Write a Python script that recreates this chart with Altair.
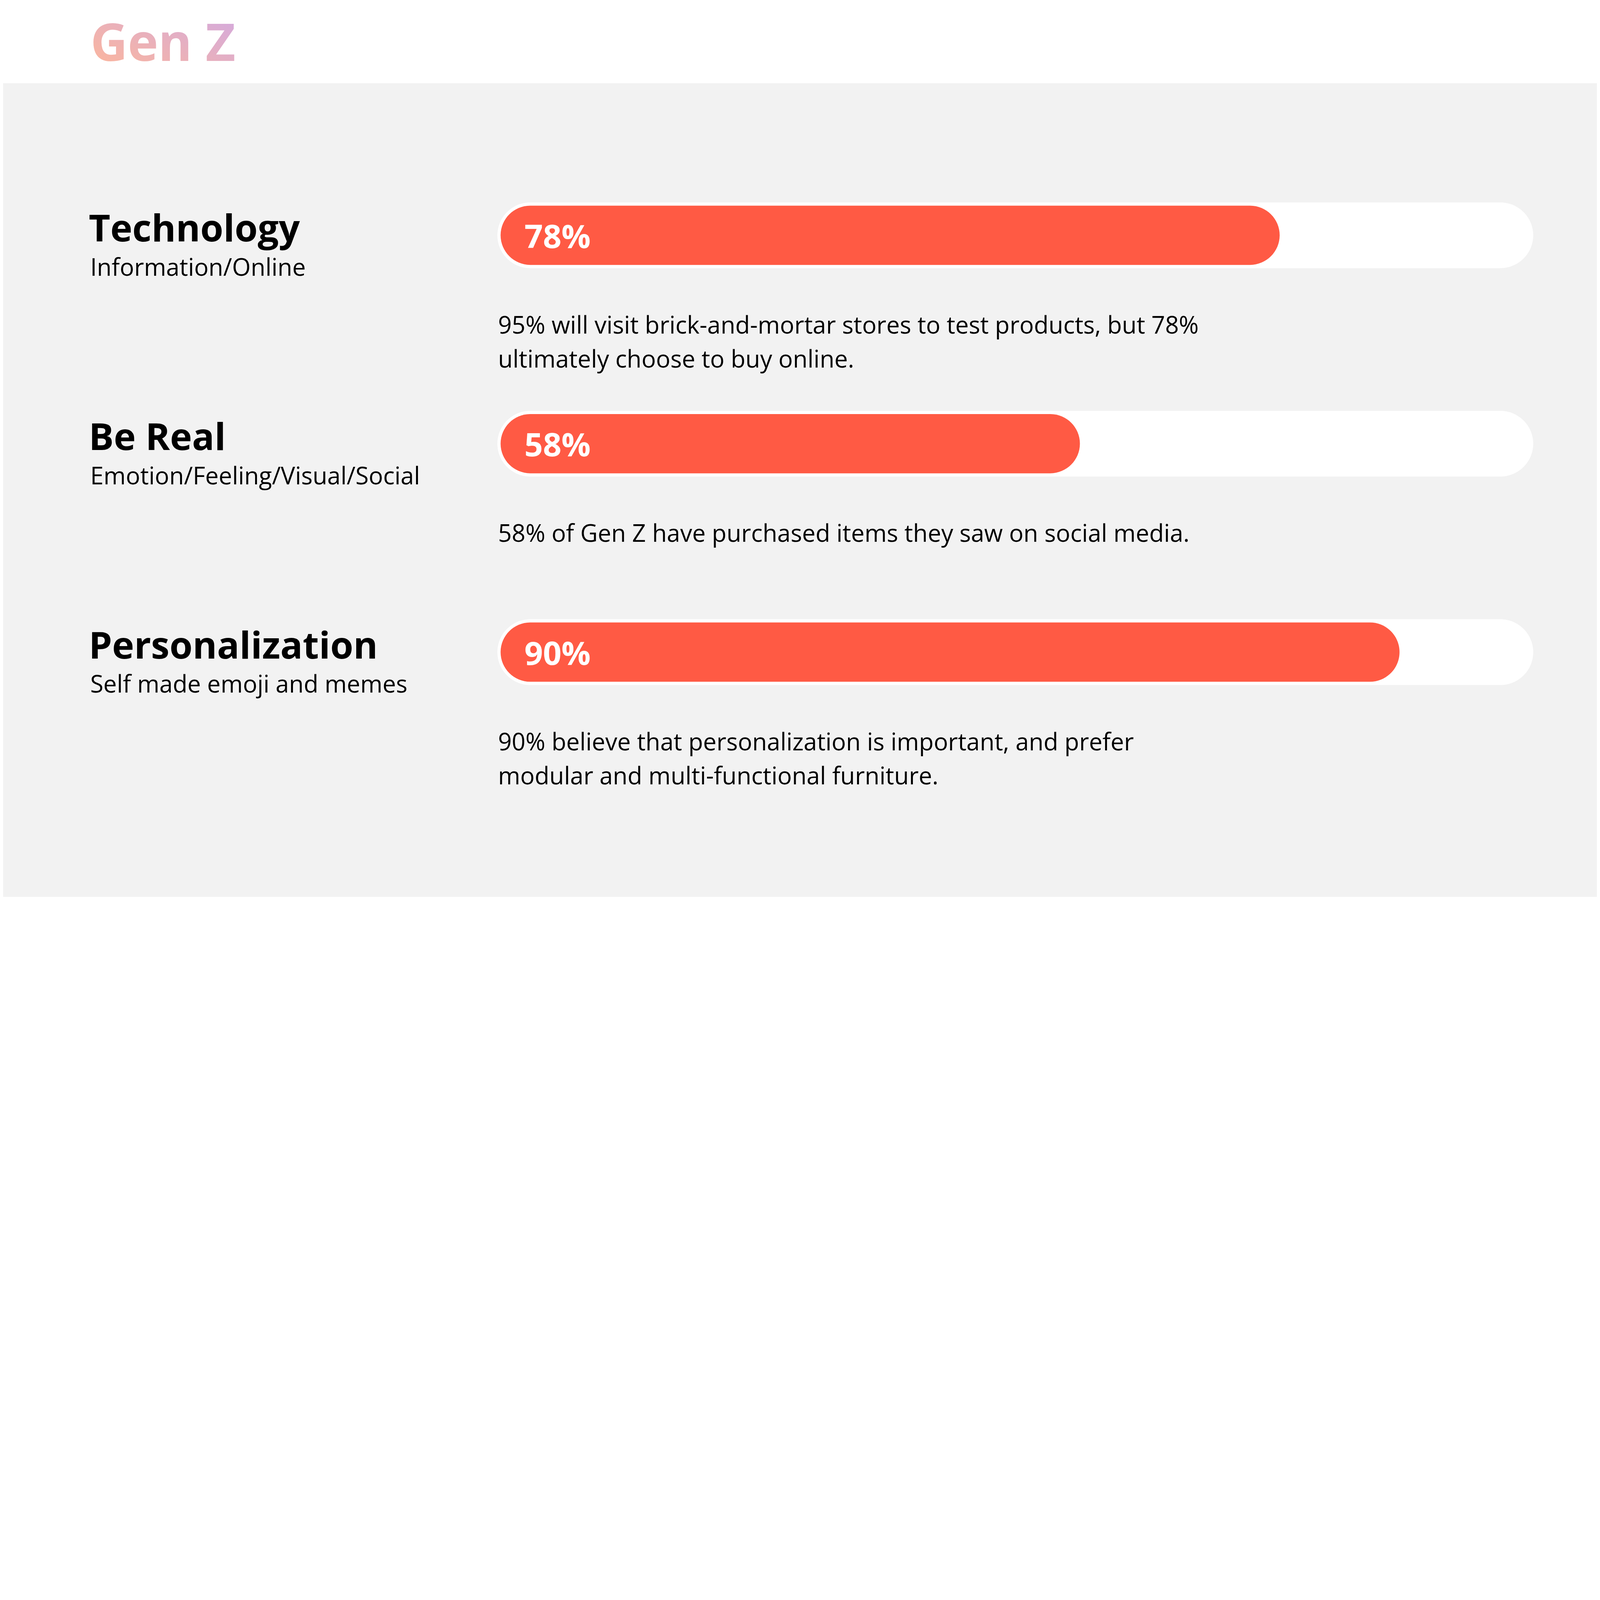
import altair as alt
import pandas as pd

# ---- data ----
categories = ["Technology", "Be Real", "Personalization"]
subtitles = ["Information/Online", "Emotion/Feeling/Visual/Social", "Self made emoji and memes"]
values = [78, 58, 90]
desc_line1 = [
    "95% will visit brick-and-mortar stores to test products, but 78%",
    "58% of Gen Z have purchased items they saw on social media.",
    "90% believe that personalization is important, and prefer",
]
desc_line2 = [
    "ultimately choose to buy online.",
    "",
    "modular and multi-functional furniture.",
]
title_text = ["Gen Z"]

# ---- layout (the browser window here is 4096 px wide) ----
F = 0.512                      # page px per reference px
def px(v):                     # reference x/y -> chart coordinate
    return v * F - 8
def sz(v):                     # reference length -> page length
    return v * F

W, H = 4080, 2288
FONT = "Open Sans"
RED = "#FF5A44"
GRAY = "#F2F2F2"

df = pd.DataFrame({"cat": categories, "sub": subtitles, "value": values,
                   "d1": desc_line1, "d2": desc_line2})

xs = alt.Scale(domain=[0, 100], range=[px(2503), px(7497)])
step = sz(1042)
ys = alt.Scale(domain=categories,
               range=[px(1176.5) - step / 2, px(3260.5) + step / 2],
               paddingInner=0, paddingOuter=0)
Y = alt.Y("cat:N", scale=ys, axis=None)

base = alt.Chart(df).transform_calculate(
    zero="0", full="100", label="datum.value + '%'"
)

header = alt.Chart(pd.DataFrame({"h": [0]})).mark_rect(color="white").encode(
    x=alt.value(0), x2=alt.value(W), y=alt.value(0), y2=alt.value(px(416))
)

title = alt.Chart(pd.DataFrame({"t": title_text})).mark_text(
    x=px(452), y=px(304), align="left", baseline="alphabetic", fontSize=sz(258),
    fontWeight="bold", font=FONT,
    fill=alt.Gradient(gradient="linear",
                      stops=[alt.GradientStop(color="#FFB797", offset=0),
                             alt.GradientStop(color="#D1A9E3", offset=1)],
                      x1=0, y1=1, x2=1, y2=0),
).encode(text="t:N")

track = base.mark_bar(size=sz(329), cornerRadius=sz(164.5), color="white",
                      xOffset=-sz(16), x2Offset=sz(169)).encode(
    x=alt.X("zero:Q", scale=xs, axis=None), x2="full:Q", y=Y
)

bars = base.mark_bar(size=sz(296), cornerRadius=sz(148), color=RED).encode(
    x=alt.X("zero:Q", scale=xs, axis=None), x2="value:Q", y=Y
)

labels = base.mark_text(align="left", baseline="alphabetic", dy=sz(63),
                        fontSize=sz(162), fontWeight="bold", color="white", font=FONT).encode(
    x=alt.value(px(2622)), y=Y, text="label:N"
)

names = base.mark_text(align="left", baseline="alphabetic", dy=sz(31.5),
                       fontSize=sz(186), fontWeight="bold", color="#000000", font=FONT).encode(
    x=alt.value(px(444)), y=Y, text="cat:N"
)

subs = base.mark_text(align="left", baseline="alphabetic", dy=sz(202.5),
                      fontSize=sz(120), color="#000000", font=FONT).encode(
    x=alt.value(px(451)), y=Y, text="sub:N"
)

d1 = base.mark_text(align="left", baseline="alphabetic", dy=sz(490.5),
                    fontSize=sz(120), color="#000000", font=FONT).encode(
    x=alt.value(px(2490)), y=Y, text="d1:N"
)

d2 = base.mark_text(align="left", baseline="alphabetic", dy=sz(661.5),
                    fontSize=sz(120), color="#000000", font=FONT).encode(
    x=alt.value(px(2490)), y=Y, text="d2:N"
)

chart = alt.layer(header, title, track, bars, labels, names, subs, d1, d2).properties(
    width=W, height=H, background=GRAY, padding=0, autosize="none",
).configure_view(strokeWidth=0)

chart.save("out.html", embed_options={"renderer": "svg", "actions": False})
